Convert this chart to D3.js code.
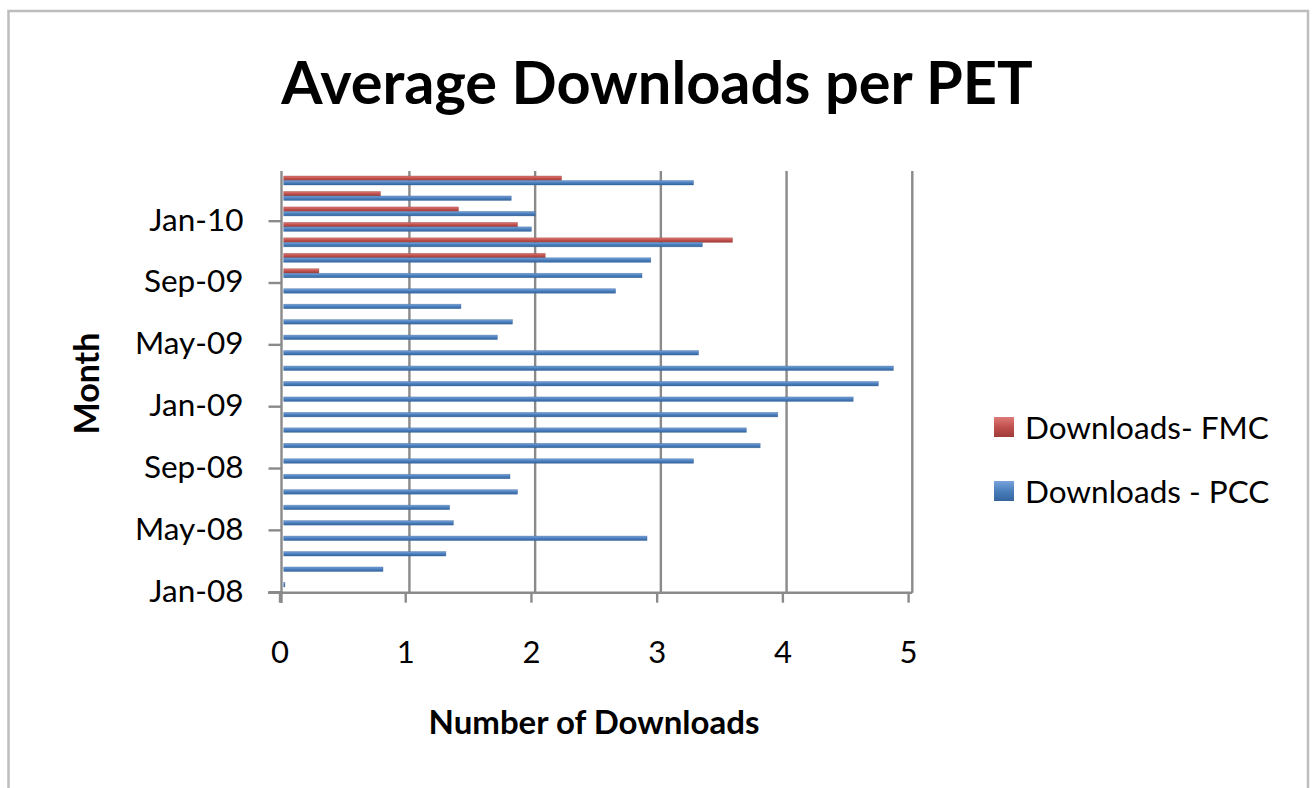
<!DOCTYPE html>
<html>
<head>
<meta charset="utf-8">
<script src="https://cdn.jsdelivr.net/npm/d3@7"></script>
<style>
  html, body { margin: 0; padding: 0; background: #fff; }
  svg { display: block; }
  text { font-family: Lato, "Open Sans", sans-serif; fill: #000; }
</style>
</head>
<body>
<svg id="chart" width="1312" height="788"></svg>
<script>
const months = ["Jan-08","Feb-08","Mar-08","Apr-08","May-08","Jun-08","Jul-08","Aug-08",
  "Sep-08","Oct-08","Nov-08","Dec-08","Jan-09","Feb-09","Mar-09","Apr-09","May-09","Jun-09",
  "Jul-09","Aug-09","Sep-09","Oct-09","Nov-09","Dec-09","Jan-10","Feb-10","Mar-10"];
const downloadsPCC = [0.01,0.79,1.29,2.89,1.35,1.32,1.86,1.80,3.26,3.79,3.68,3.93,4.53,4.73,4.85,
  3.30,1.70,1.82,1.41,2.64,2.85,2.92,3.33,1.97,2.00,1.81,3.26];
const downloadsFMC = [0,0,0,0,0,0,0,0,0,0,0,0,0,0,0,0,0,0,0,0,0.28,2.08,3.57,1.86,1.39,0.77,2.21];
const seriesNames = ["Downloads- FMC","Downloads - PCC"];
const xTickValues = [0,1,2,3,4,5];
const yTickLabels = ["Jan-08","May-08","Sep-08","Jan-09","May-09","Sep-09","Jan-10"];
const chartTitle = "Average Downloads per PET";
const xTitle = "Number of Downloads";
const yTitle = "Month";

const svg = d3.select("#chart");
const defs = svg.append("defs");

// outer frame
svg.append("rect").attr("x", 8.5).attr("y", 11).attr("width", 1299.5).attr("height", 820)
  .attr("fill", "none").attr("stroke", "#bdbdbd").attr("stroke-width", 2.5);

// gradients
const grads = [
  {id: "gFMC", stops: ["#dc7b77", "#c0504d", "#9e3b38"]},
  {id: "gPCC", stops: ["#78a4dc", "#4a7ebb", "#35659f"]}
];
grads.forEach(g => {
  const lg = defs.append("linearGradient").attr("id", g.id)
    .attr("x1", 0).attr("y1", 0).attr("x2", 0).attr("y2", 1);
  lg.append("stop").attr("offset", "0%").attr("stop-color", g.stops[0]);
  lg.append("stop").attr("offset", "50%").attr("stop-color", g.stops[1]);
  lg.append("stop").attr("offset", "100%").attr("stop-color", g.stops[2]);
});

const plotTop = 174.3, plotBottom = 591.7;
const x = d3.scaleLinear().domain([0, 5]).range([283.7, 912.3]);
const xAxisScale = d3.scaleLinear().domain([0, 5]).range([279.5, 908.1]);
const y = d3.scaleBand().domain(months).range([plotBottom, plotTop]).paddingInner(0).paddingOuter(0);
const yIdx = d3.scaleLinear().domain([0, months.length]).range([plotBottom, plotTop]);
const y1 = d3.scaleBand().domain(seriesNames).range([1.7, 10.7]);

const gridColor = "#8a8a8a";

// vertical gridlines
svg.append("g").selectAll("line").data(xTickValues.filter(v => v > 0)).join("line")
  .attr("x1", d => x(d)).attr("x2", d => x(d))
  .attr("y1", 171).attr("y2", 592.7)
  .attr("stroke", gridColor).attr("stroke-width", 2.4);

// bars
const rows = months.map((m, i) => ({month: m, values: [downloadsFMC[i], downloadsPCC[i]]}));
const barG = svg.append("g");
rows.forEach(r => {
  seriesNames.forEach((s, si) => {
    barG.append("rect")
      .attr("x", x(0))
      .attr("y", y(r.month) + y1(s))
      .attr("width", x(r.values[si]) - x(0))
      .attr("height", y1.bandwidth())
      .attr("fill", si === 0 ? "url(#gFMC)" : "url(#gPCC)")
      .attr("stroke", si === 0 ? "rgba(150,55,52,0.55)" : "rgba(50,95,150,0.55)")
      .attr("stroke-width", 0.6);
  });
});

// y axis line
svg.append("line").attr("x1", 281.5).attr("x2", 281.5).attr("y1", 171).attr("y2", 603)
  .attr("stroke", gridColor).attr("stroke-width", 2.4);
// x axis line
svg.append("line").attr("x1", 268).attr("x2", 912.3).attr("y1", 592.7).attr("y2", 592.7)
  .attr("stroke", gridColor).attr("stroke-width", 2.4);

// x axis ticks + labels
const xAxisG = svg.append("g").attr("transform", "translate(0,592.7)")
  .call(d3.axisBottom(xAxisScale).tickValues(xTickValues).tickSize(10).tickPadding(38).tickFormat(d3.format("d")));
xAxisG.select(".domain").remove();
xAxisG.selectAll(".tick line").attr("stroke", gridColor).attr("stroke-width", 2.4);
xAxisG.selectAll(".tick text").attr("font-size", 31).attr("font-family", "Lato").attr("fill", "#000");

// y axis ticks + labels
const yTickIdx = yTickLabels.map(l => months.indexOf(l));
const yAxisG = svg.append("g").attr("transform", "translate(281.5,0)")
  .call(d3.axisLeft(yIdx).tickValues(yTickIdx).tickSize(13).tickPadding(25)
    .tickFormat(i => months[i]));
yAxisG.select(".domain").remove();
yAxisG.selectAll(".tick line").attr("stroke", gridColor).attr("stroke-width", 2.4);
yAxisG.selectAll(".tick text").attr("font-size", 31.5).attr("font-family", "Lato").attr("fill", "#000")
  .attr("dy", "0.3em");

// title
svg.append("text").attr("x", 657).attr("y", 104).attr("text-anchor", "middle")
  .attr("font-size", 59.5).attr("font-weight", "bold").text(chartTitle);

// x axis title
svg.append("text").attr("x", 594).attr("y", 734).attr("text-anchor", "middle")
  .attr("font-size", 33).attr("font-weight", "bold").text(xTitle);

// y axis title
svg.append("text").attr("transform", "translate(99,383.5) rotate(-90)").attr("text-anchor", "middle")
  .attr("font-size", 34).attr("font-weight", "bold").text(yTitle);

// legend
const legend = svg.append("g");
const legendY = d3.scalePoint().domain(seriesNames).range([427, 491]);
seriesNames.forEach((s, i) => {
  legend.append("rect").attr("x", 994).attr("y", legendY(s) - 10).attr("width", 20).attr("height", 20)
    .attr("fill", i === 0 ? "url(#gFMC)" : "url(#gPCC)");
  legend.append("text").attr("x", 1025).attr("y", legendY(s) + 11.5)
    .attr("font-size", 31.5).text(s);
});
</script>
</body>
</html>
